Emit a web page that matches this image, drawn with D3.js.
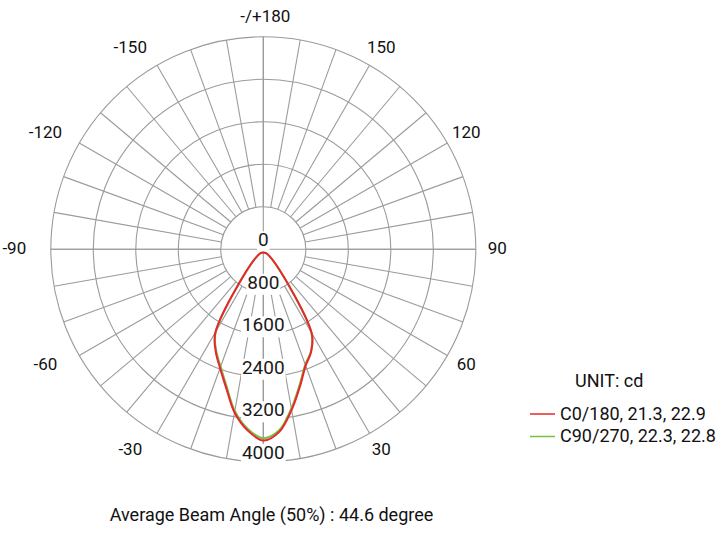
<!DOCTYPE html>
<html>
<head>
<meta charset="utf-8">
<script src="https://cdn.jsdelivr.net/npm/d3@7"></script>
<style>
  html, body { margin: 0; padding: 0; background: #fff; }
  svg { display: block; font-family: Roboto, "Noto Sans", sans-serif; font-weight: 450; }
</style>
</head>
<body>
<svg id="chart" width="722" height="536"></svg>
<script>
// polar intensity data (cd), angle 0 = straight down, positive to the right
var angles = [-35, -30, -25, -20, -15, -10, -5, 0, 5, 10, 15, 20, 25, 30, 35];
var c0_180 = [90, 1800, 2120, 2380, 2700, 3120, 3420, 3600, 3450, 3070, 2670, 2330, 2130, 1820, 90];
var c90_270 = [90, 1790, 2100, 2350, 2670, 3090, 3390, 3555, 3420, 3040, 2640, 2310, 2120, 1810, 90];

var seriesNames = ["C0/180, 21.3, 22.9", "C90/270, 22.3, 22.8"];
var seriesColors = ["#e8262b", "#78c043"];

var radialTicks = [0, 800, 1600, 2400, 3200, 4000];
var angleTicks = [180, 150, 120, 90, 60, 30, -30, -60, -90, -120, -150];
var angleTickLabels = ["-/+180", "150", "120", "90", "60", "30", "-30", "-60", "-90", "-120", "-150"];

var unitText = "UNIT: cd";
var footerText = "Average Beam Angle (50%) : 44.6 degree";

var cx = 263.3, cy = 249.3, outerR = 212.5;
var gridColor = "#9b9b9b";

var svg = d3.select("#chart");
var r = d3.scaleLinear().domain([0, 4000]).range([0, outerR]);
// screen position for an angle in degrees (0 = down) and radius in px
function pos(deg, rad) {
  var a = deg * Math.PI / 180;
  return [rad * Math.sin(a), rad * Math.cos(a)];
}

var g = svg.append("g").attr("transform", "translate(" + cx + "," + cy + ")");

// rings
g.selectAll("circle.ring")
  .data(radialTicks.slice(1))
  .enter().append("circle")
  .attr("class", "ring")
  .attr("r", function (d) { return r(d); })
  .attr("fill", "none")
  .attr("stroke", gridColor)
  .attr("stroke-width", 1.1);

// spokes every 10 degrees, starting at the first ring
var spokes = d3.range(-170, 190, 10);
g.selectAll("line.spoke")
  .data(spokes)
  .enter().append("line")
  .attr("class", "spoke")
  .attr("x1", function (d) { return pos(d, r(radialTicks[1]))[0]; })
  .attr("y1", function (d) { return pos(d, r(radialTicks[1]))[1]; })
  .attr("x2", function (d) { return pos(d, r(4000))[0]; })
  .attr("y2", function (d) { return pos(d, r(4000))[1]; })
  .attr("stroke", gridColor)
  .attr("stroke-width", 1.1);

// full axes through the centre
g.append("line").attr("x1", -outerR).attr("x2", outerR).attr("y1", 0).attr("y2", 0)
  .attr("stroke", gridColor).attr("stroke-width", 1.1);
g.append("line").attr("x1", 0).attr("x2", 0).attr("y1", -outerR).attr("y2", outerR)
  .attr("stroke", gridColor).attr("stroke-width", 1.1);

// radial value labels along the downward axis, with white boxes
var rl = g.selectAll("g.rlabel")
  .data(radialTicks)
  .enter().append("g")
  .attr("class", "rlabel")
  .attr("transform", function (d) { return "translate(0," + (r(d) - 3) + ")"; });
rl.append("rect").attr("fill", "#fff");
rl.append("text")
  .attr("text-anchor", "middle")
  .attr("font-size", 19)
  .attr("fill", "#1a1a1a")
  .text(function (d) { return d; });
rl.each(function () {
  var sel = d3.select(this);
  var bb = sel.select("text").node().getBBox();
  sel.select("rect")
    .attr("x", bb.x - 1).attr("y", bb.y + 3)
    .attr("width", bb.width + 2).attr("height", bb.height - 2);
});

// angle labels
var angleFont = 17;
g.selectAll("text.alabel")
  .data(angleTicks)
  .enter().append("text")
  .attr("class", "alabel")
  .attr("text-anchor", "middle")
  .attr("font-size", angleFont)
  .attr("fill", "#111")
  .attr("x", function (d) { return pos(d, 232)[0] + (d < 0 ? -17 : 2); })
  .attr("y", function (d) { return pos(d, 232)[1] - 1.5 + angleFont * 0.355; })
  .text(function (d, i) { return angleTickLabels[i]; });

// curves, smoothed through the sampled angles
var line = d3.lineRadial()
  .angle(function (d) { return Math.PI - d[0] * Math.PI / 180; })
  .radius(function (d) { return r(d[1]); })
  .curve(d3.curveCatmullRomClosed.alpha(0.5));

var series = [c0_180, c90_270];
var drawOrder = [1, 0];
drawOrder.forEach(function (k) {
  g.append("path")
    .datum(angles.map(function (a, i) { return [a, series[k][i]]; }))
    .attr("d", line)
    .attr("fill", "none")
    .attr("stroke", seriesColors[k])
    .attr("stroke-width", 2)
    .attr("stroke-linejoin", "round");
});

// legend
svg.append("text")
  .attr("x", 575).attr("y", 387)
  .attr("font-size", 18).attr("fill", "#111")
  .text(unitText);

var legend = svg.selectAll("g.legend")
  .data(seriesNames)
  .enter().append("g")
  .attr("class", "legend")
  .attr("transform", function (d, i) { return "translate(530," + (414 + i * 22.5) + ")"; });
legend.append("line")
  .attr("x1", 0).attr("x2", 25).attr("y1", 0).attr("y2", 0)
  .attr("stroke", function (d, i) { return seriesColors[i]; })
  .attr("stroke-width", 1.5);
legend.append("text")
  .attr("x", 30).attr("y", 5.7)
  .attr("font-size", 18).attr("fill", "#111")
  .text(function (d) { return d; });

// footer
svg.append("text")
  .attr("x", 271.5).attr("y", 521)
  .attr("text-anchor", "middle")
  .attr("font-size", 18).attr("fill", "#111")
  .text(footerText);
</script>
</body>
</html>
